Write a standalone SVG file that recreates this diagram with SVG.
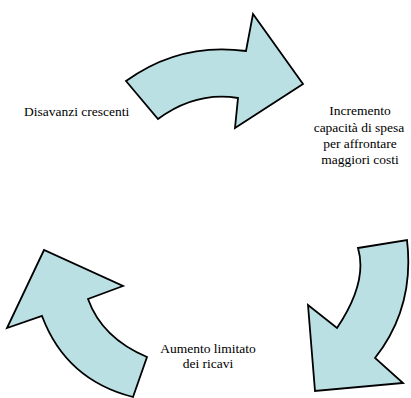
<svg xmlns="http://www.w3.org/2000/svg" width="411" height="398" viewBox="0 0 411 398">
<style>
.arrow{fill:#BAE0E4;stroke:#000;stroke-width:1.8;stroke-linejoin:miter}
text{font-family:'Liberation Serif','Times New Roman','DejaVu Serif',serif;font-size:13.5px;fill:#000}
</style>
<rect width="411" height="398" fill="#fff"/>
<g id="connectors">
<path id="arrow-top" class="arrow" d="M126,81 Q180,42 246,51 L253,14 L303,84 L235,128 L238,98 Q196,91 158,119 Z"/>
<path id="arrow-right" class="arrow" d="M358,248 L407,240 Q415,307 375,358 L403,383 L315,391 L308,305 L337,328 Q368,282 358,248 Z"/>
<path id="arrow-left" class="arrow" d="M133,397 L147,357 Q102,338 88,299 L123,286 L44,250 L7,328 L42,316 Q66,380 133,397 Z"/>
</g>
<g id="node-disavanzi">
<text font-family="Liberation Serif, serif" x="24" y="116">Disavanzi crescenti</text>
</g>
<g id="node-incremento" font-family="Liberation Serif, serif" text-anchor="middle">
<text x="360" y="115">Incremento</text>
<text x="359" y="131.5">capacità di spesa</text>
<text x="360" y="148">per affrontare</text>
<text x="360" y="164">maggiori costi</text>
</g>
<g id="node-aumento" font-family="Liberation Serif, serif" text-anchor="middle">
<text x="208" y="353">Aumento limitato</text>
<text x="208" y="368">dei ricavi</text>
</g>
</svg>
